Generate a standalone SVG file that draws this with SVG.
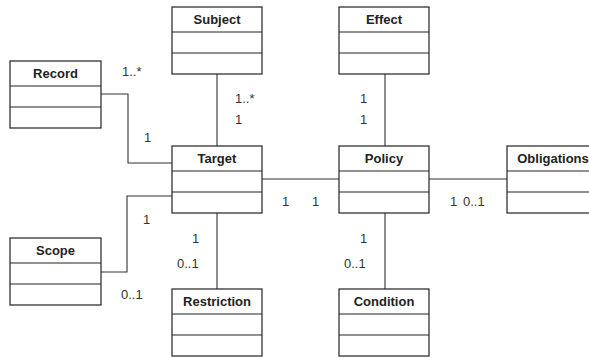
<svg xmlns="http://www.w3.org/2000/svg" width="589" height="358" viewBox="0 0 589 358">
<style>
.box{fill:#fff;stroke:#222;stroke-width:1.2}
.div{stroke:#222;stroke-width:1.2}
.name{font-family:"Liberation Sans",Arial,sans-serif;font-size:13px;font-weight:bold;fill:#222;text-anchor:middle}
.conn{fill:none;stroke:#333;stroke-width:1.1}
.lbl{font-family:"Liberation Sans",Arial,sans-serif;font-size:13px;fill:#333}
</style>
<rect width="589" height="358" fill="#fff"/>
<g id="connectors">
<line class="conn" x1="217" y1="74" x2="217" y2="146"/>
<line class="conn" x1="385" y1="74" x2="385" y2="146"/>
<polyline class="conn" points="101,94 128,94 128,163 172,163"/>
<polyline class="conn" points="101,272 127,272 127,196 172,196"/>
<line class="conn" x1="262" y1="179" x2="339" y2="179"/>
<line class="conn" x1="429" y1="179" x2="507" y2="179"/>
<line class="conn" x1="217" y1="213" x2="217" y2="289"/>
<line class="conn" x1="385" y1="213" x2="385" y2="289"/>
</g>
<g id="labels">
<text class="lbl" x="122" y="76">1..*</text>
<text class="lbl" x="235" y="103">1..*</text>
<text class="lbl" x="235" y="124">1</text>
<text class="lbl" x="144" y="142">1</text>
<text class="lbl" x="360" y="103">1</text>
<text class="lbl" x="360" y="124">1</text>
<text class="lbl" x="143" y="224">1</text>
<text class="lbl" x="192" y="243">1</text>
<text class="lbl" x="177" y="268">0..1</text>
<text class="lbl" x="121" y="299">0..1</text>
<text class="lbl" x="282" y="206">1</text>
<text class="lbl" x="312" y="206">1</text>
<text class="lbl" x="450" y="206">1</text>
<text class="lbl" x="463" y="206">0..1</text>
<text class="lbl" x="360" y="243">1</text>
<text class="lbl" x="344" y="268">0..1</text>
</g>
<g id="subject">
<rect class="box" x="172" y="7" width="90" height="67"/>
<line class="div" x1="172" y1="32" x2="262" y2="32"/>
<line class="div" x1="172" y1="53" x2="262" y2="53"/>
<text class="name" x="217" y="24">Subject</text>
</g>
<g id="effect">
<rect class="box" x="339" y="7" width="90" height="67"/>
<line class="div" x1="339" y1="32" x2="429" y2="32"/>
<line class="div" x1="339" y1="53" x2="429" y2="53"/>
<text class="name" x="384" y="24">Effect</text>
</g>
<g id="record">
<rect class="box" x="10" y="61" width="91" height="67"/>
<line class="div" x1="10" y1="86" x2="101" y2="86"/>
<line class="div" x1="10" y1="107" x2="101" y2="107"/>
<text class="name" x="55.5" y="78">Record</text>
</g>
<g id="target">
<rect class="box" x="172" y="146" width="90" height="67"/>
<line class="div" x1="172" y1="171" x2="262" y2="171"/>
<line class="div" x1="172" y1="192" x2="262" y2="192"/>
<text class="name" x="217" y="163">Target</text>
</g>
<g id="policy">
<rect class="box" x="339" y="146" width="90" height="67"/>
<line class="div" x1="339" y1="171" x2="429" y2="171"/>
<line class="div" x1="339" y1="192" x2="429" y2="192"/>
<text class="name" x="384" y="163">Policy</text>
</g>
<g id="obligations">
<rect class="box" x="507" y="146" width="90" height="67"/>
<line class="div" x1="507" y1="171" x2="597" y2="171"/>
<line class="div" x1="507" y1="192" x2="597" y2="192"/>
<text class="name" x="553" y="163">Obligations</text>
</g>
<g id="scope">
<rect class="box" x="10" y="238" width="91" height="67"/>
<line class="div" x1="10" y1="263" x2="101" y2="263"/>
<line class="div" x1="10" y1="284" x2="101" y2="284"/>
<text class="name" x="55.5" y="255">Scope</text>
</g>
<g id="restriction">
<rect class="box" x="172" y="289" width="90" height="67"/>
<line class="div" x1="172" y1="314" x2="262" y2="314"/>
<line class="div" x1="172" y1="335" x2="262" y2="335"/>
<text class="name" x="217" y="306">Restriction</text>
</g>
<g id="condition">
<rect class="box" x="339" y="289" width="90" height="67"/>
<line class="div" x1="339" y1="314" x2="429" y2="314"/>
<line class="div" x1="339" y1="335" x2="429" y2="335"/>
<text class="name" x="384" y="306">Condition</text>
</g>
</svg>
